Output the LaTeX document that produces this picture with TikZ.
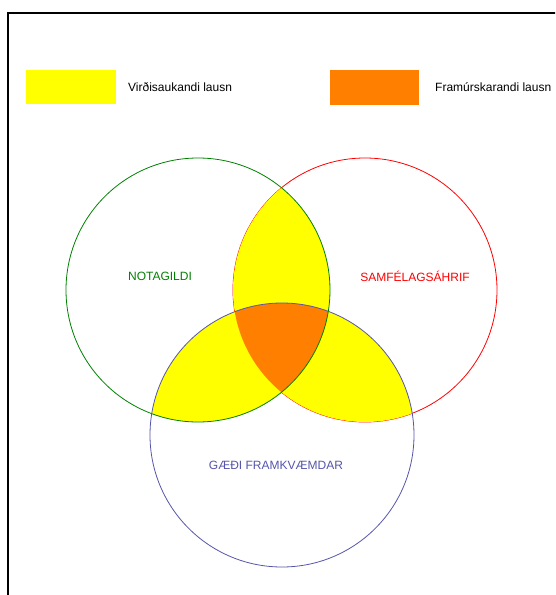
\documentclass[tikz,border=0pt]{standalone}
\usepackage{fontspec}
\setmainfont{Liberation Sans}
\definecolor{virdisyellow}{RGB}{255,255,0}
\definecolor{framurorange}{RGB}{255,128,0}
\definecolor{notagreen}{RGB}{0,128,0}
\definecolor{samfred}{RGB}{255,0,0}
\definecolor{gaedablue}{RGB}{85,85,170}
\tikzset{
  label text/.style={anchor=center, inner sep=0pt, font=\fontsize{12}{14}\selectfont},
  legend text/.style={anchor=west, inner sep=0pt, font=\fontsize{12}{14}\selectfont},
  ring/.style={line width=0.8pt}
}
\begin{document}
\begin{tikzpicture}[x=1pt,y=-1pt]
% Size of the page and of each circle
\clip (0,0) rectangle (555,595);
\def\radius{132pt}

% Frame round the picture
\draw[line width=2pt] (8,13) rectangle (620,660);

% Legend
\fill[virdisyellow] (26,70) rectangle (116,104);
\node[legend text] (virdis) at (128,87) {Virðisaukandi lausn};
\fill[framurorange] (330,70) rectangle (419,105);
\node[legend text] (framur) at (435,87) {Framúrskarandi lausn};

% Circle centres
\coordinate (nota) at (198,290);
\coordinate (samf) at (365,290);
\coordinate (gaedi) at (282,435);

% Red circle goes under the fills
\draw[ring, samfred] (samf) circle [radius=\radius];

% Overlaps of two circles
\begin{scope}
\clip (nota) circle [radius=\radius];
\fill[virdisyellow] (samf) circle [radius=\radius];
\fill[virdisyellow] (gaedi) circle [radius=\radius];
\end{scope}
\begin{scope}
\clip (samf) circle [radius=\radius];
\fill[virdisyellow] (gaedi) circle [radius=\radius];
\end{scope}

% Overlap of all three
\begin{scope}
\clip (nota) circle [radius=\radius];
\clip (samf) circle [radius=\radius];
\fill[framurorange] (gaedi) circle [radius=\radius];
\end{scope}

% Green and blue circles on top
\draw[ring, notagreen] (nota) circle [radius=\radius];
\draw[ring, gaedablue] (gaedi) circle [radius=\radius];

% Circle labels
\node[label text, text=notagreen] (notagildi) at (160,276) {NOTAGILDI};
\node[label text, text=samfred] (samfelag) at (415,276) {SAMFÉLAGSÁHRIF};
\node[label text, text=gaedablue] (framkvaemd) at (276,465) {GÆÐI FRAMKVÆMDAR};
\end{tikzpicture}
\end{document}
